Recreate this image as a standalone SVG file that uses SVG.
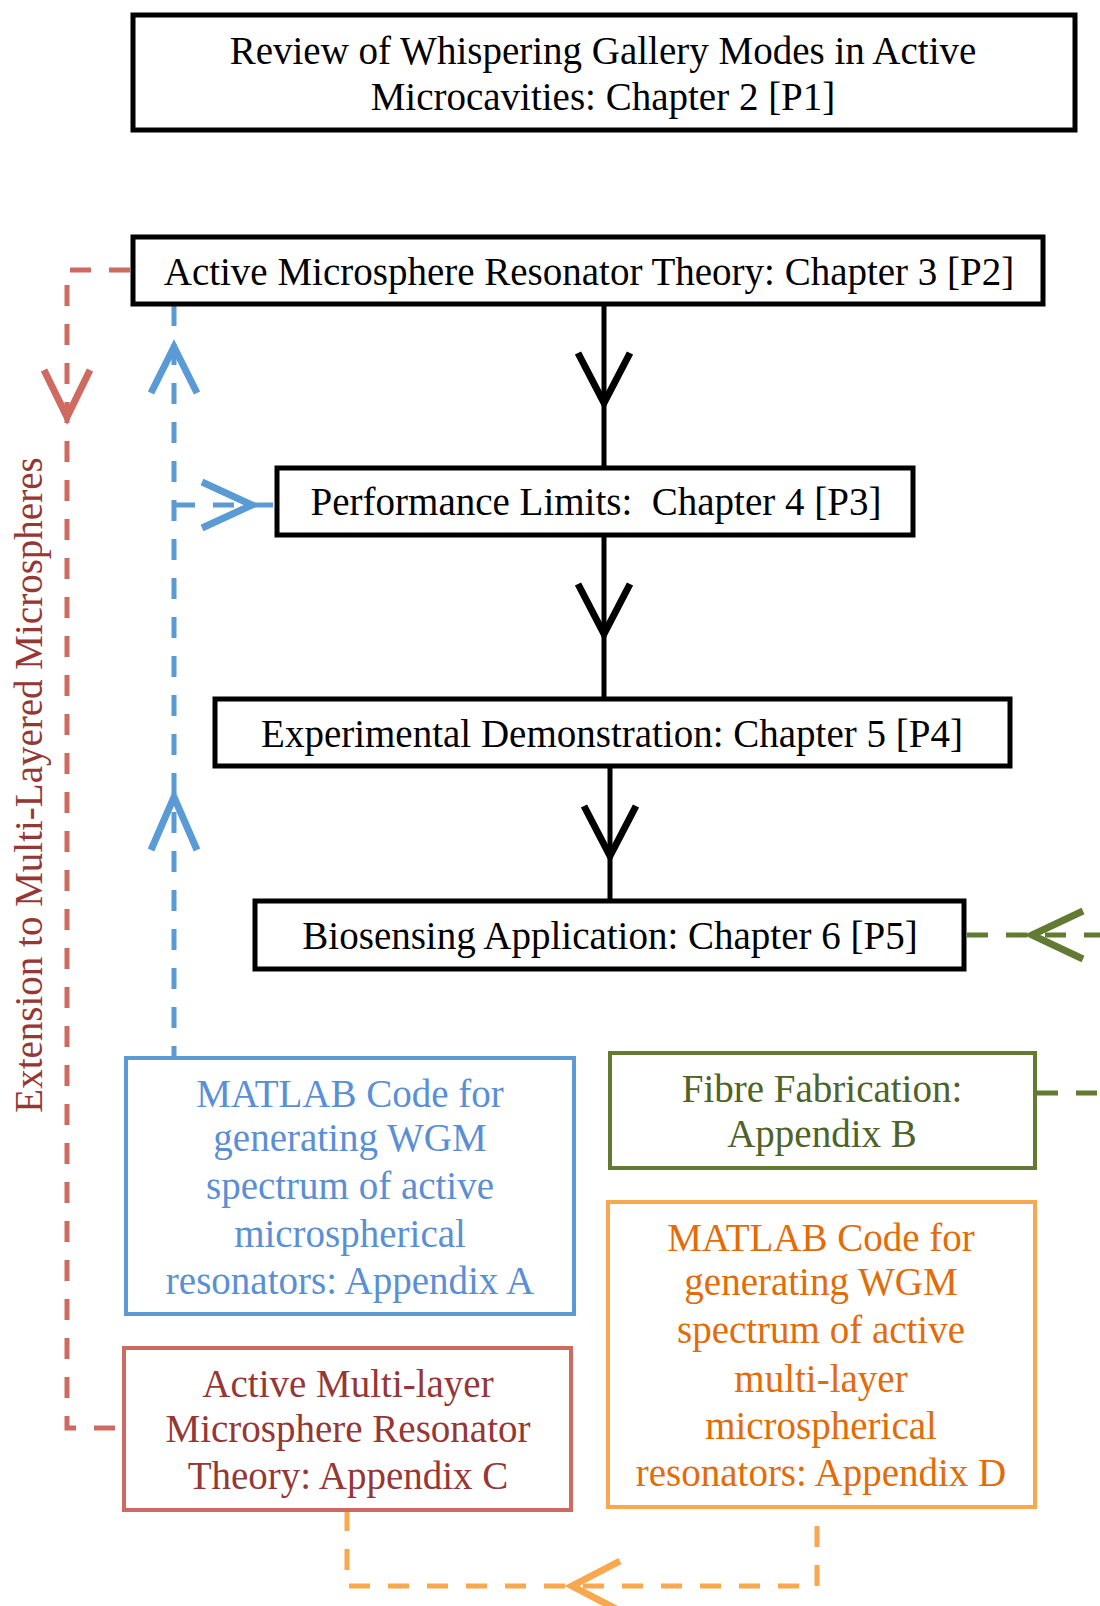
<svg xmlns="http://www.w3.org/2000/svg" width="1100" height="1606" viewBox="0 0 1100 1606">
<style>
text{font-family:"Liberation Serif","Times New Roman",serif;font-size:39px;text-anchor:middle;white-space:pre}
.bk{fill:none;stroke:#000;stroke-width:5}
.bl{fill:none;stroke:#5B9BD5;stroke-width:4}
.rd{fill:none;stroke:#CF6A60;stroke-width:4}
.gr{fill:none;stroke:#627A32;stroke-width:4}
.or{fill:none;stroke:#F9A84F;stroke-width:4}
.d{stroke-dasharray:21 18;stroke-width:5}
.ah{stroke-width:7;stroke-linejoin:miter;stroke-miterlimit:10}
.tb{fill:#000}
.tbl{fill:#5A8FD6}
.trd{fill:#953735}
.tgr{fill:#4F6228}
.tor{fill:#E36C09}
</style>
<rect width="1100" height="1606" fill="#fff"/>
<g id="connectors">
<line class="bk" x1="604" y1="304" x2="604" y2="467"/>
<polyline class="bk ah" points="578,353 604,403 630,353"/>
<line class="bk" x1="604" y1="535" x2="604" y2="698"/>
<polyline class="bk ah" points="578,584 604,634 630,584"/>
<line class="bk" x1="610" y1="766" x2="610" y2="900"/>
<polyline class="bk ah" points="584,806 610,856 636,806"/>
<polyline class="rd d" points="130,270 67,270 67,1428 121,1428"/>
<polyline class="rd ah" points="44,370 67,417 90,370"/>
<line class="bl d" x1="174" y1="305" x2="174" y2="1057"/>
<line class="bl d" x1="174" y1="505" x2="275" y2="505"/>
<polyline class="bl ah" points="151,393 174,347 197,393"/>
<polyline class="bl ah" points="151,850 174,797 197,850"/>
<polyline class="bl ah" points="202,482 252,505 202,528"/>
<line class="gr d" x1="967" y1="935" x2="1100" y2="935"/>
<line class="gr d" x1="1037" y1="1093" x2="1100" y2="1093"/>
<polyline class="gr ah" points="1083,911 1032,935 1083,959"/>
<polyline class="or d" points="347,1510 347,1586 817,1586 817,1508"/>
<polyline class="or ah" points="620,1561 572,1586 620,1611"/>
</g>
<g id="n1">
<rect class="bk" x="133" y="15" width="942" height="115"/>
<text class="tb" x="603" y="64">Review of Whispering Gallery Modes in Active</text>
<text class="tb" x="603" y="110">Microcavities: Chapter 2 [P1]</text>
</g>
<g id="n2">
<rect class="bk" x="133" y="237" width="910" height="67"/>
<text class="tb" x="589" y="285">Active Microsphere Resonator Theory: Chapter 3 [P2]</text>
</g>
<g id="n3">
<rect class="bk" x="277" y="468" width="636" height="67"/>
<text class="tb" x="596" y="515" xml:space="preserve">Performance Limits:  Chapter 4 [P3]</text>
</g>
<g id="n4">
<rect class="bk" x="215" y="699" width="795" height="67"/>
<text class="tb" x="612" y="747">Experimental Demonstration: Chapter 5 [P4]</text>
</g>
<g id="n5">
<rect class="bk" x="255" y="901" width="709" height="68"/>
<text class="tb" x="610" y="949">Biosensing Application: Chapter 6 [P5]</text>
</g>
<g id="nA">
<rect class="bl" x="126" y="1058" width="448" height="256"/>
<text class="tbl" x="350" y="1107">MATLAB Code for</text>
<text class="tbl" x="350" y="1151">generating WGM</text>
<text class="tbl" x="350" y="1199">spectrum of active</text>
<text class="tbl" x="350" y="1247">microspherical</text>
<text class="tbl" x="350" y="1294">resonators: Appendix A</text>
</g>
<g id="nB">
<rect class="gr" x="610" y="1053" width="425" height="115"/>
<text class="tgr" x="822" y="1102">Fibre Fabrication:</text>
<text class="tgr" x="822" y="1147">Appendix B</text>
</g>
<g id="nC">
<rect class="rd" x="124" y="1348" width="447" height="162"/>
<text class="trd" x="348" y="1397">Active Multi-layer</text>
<text class="trd" x="348" y="1442">Microsphere Resonator</text>
<text class="trd" x="348" y="1489">Theory: Appendix C</text>
</g>
<g id="nD">
<rect class="or" x="608" y="1202" width="427" height="305"/>
<text class="tor" x="821" y="1251">MATLAB Code for</text>
<text class="tor" x="821" y="1295">generating WGM</text>
<text class="tor" x="821" y="1343">spectrum of active</text>
<text class="tor" x="821" y="1392">multi-layer</text>
<text class="tor" x="821" y="1439">microspherical</text>
<text class="tor" x="821" y="1486">resonators: Appendix D</text>
</g>
<text class="trd" transform="translate(42,785) rotate(-90)">Extension to Multi-Layered Microspheres</text>
</svg>
